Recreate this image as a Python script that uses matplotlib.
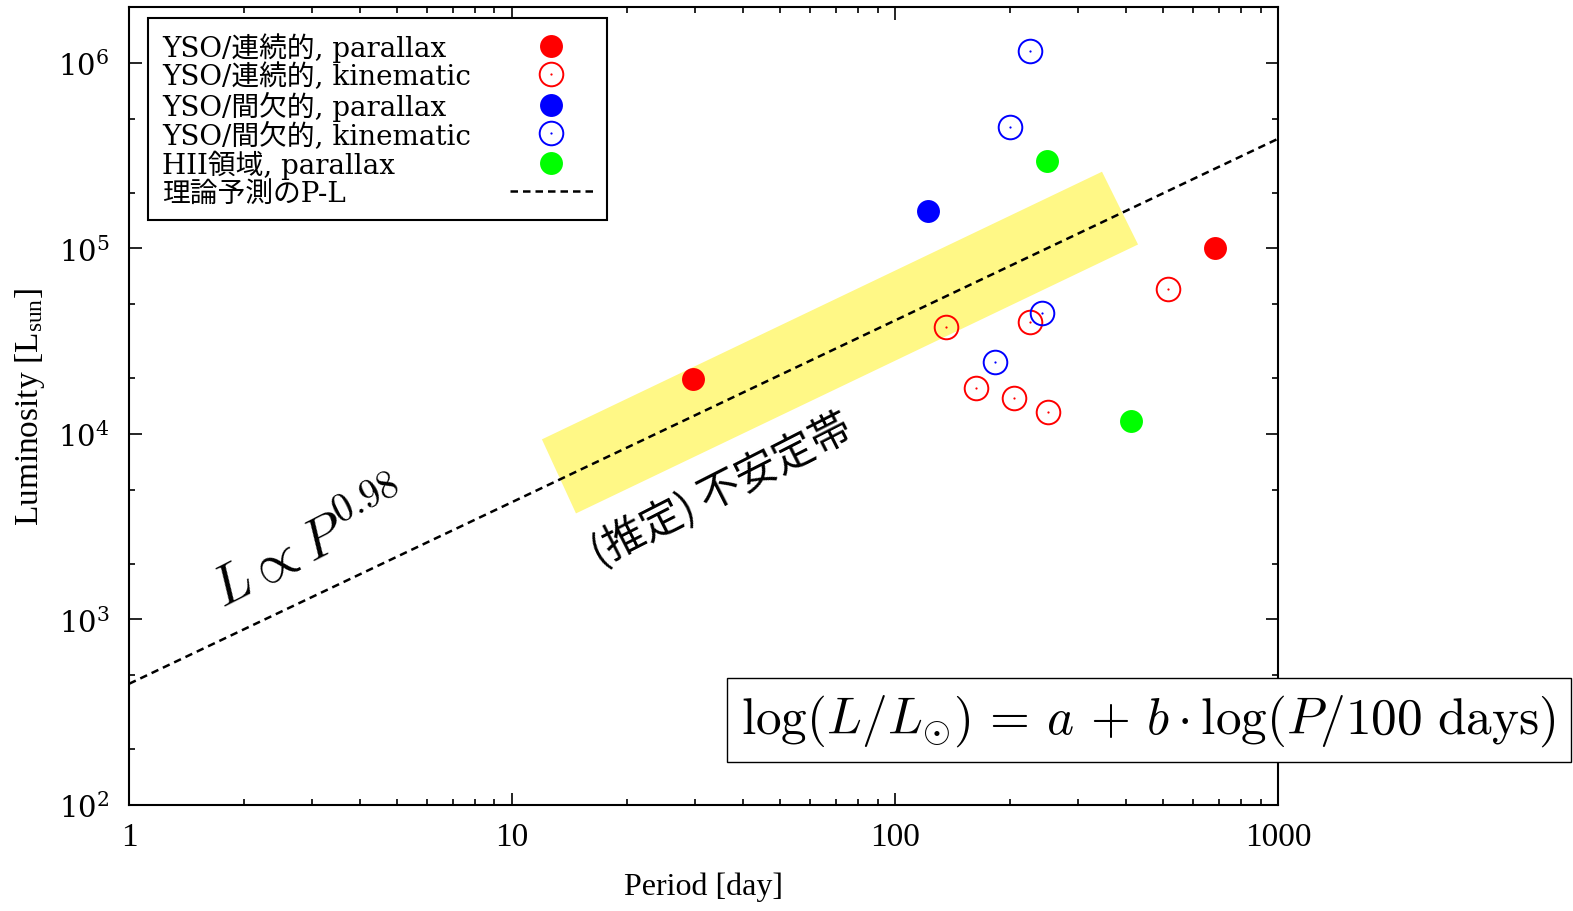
import matplotlib
matplotlib.use("Agg")
import matplotlib.pyplot as plt
from matplotlib.legend_handler import HandlerTuple
from matplotlib.ticker import LogLocator, FixedLocator, FixedFormatter, NullFormatter

# --- data (period in days, luminosity in L_sun) ---
yso_cont_par_P = [29.7, 685]
yso_cont_par_L = [1.97e4, 1.01e5]
yso_cont_kin_P = [136, 516, 225, 163, 204, 251]
yso_cont_kin_L = [3.79e4, 6.08e4, 3.99e4, 1.76e4, 1.57e4, 1.32e4]
yso_int_par_P = [122]
yso_int_par_L = [1.60e5]
yso_int_kin_P = [225, 200, 242, 182]
yso_int_kin_L = [1.16e6, 4.53e5, 4.46e4, 2.43e4]
hii_par_P = [249, 413]
hii_par_L = [2.97e5, 1.18e4]

# theoretical P-L relation (end points of the dashed line)
pl_P = [1, 1000]
pl_L = [450, 3.9e5]

# (estimated) instability strip, corners
band_P = [11.97, 14.69, 431, 347]
band_L = [9.35e3, 3.73e3, 1.05e5, 2.59e5]

x_ticks = [1, 10, 100, 1000]
x_ticklabels = ["1", "10", "100", "1000"]

labels = [
    "YSO/連続的, parallax",
    "YSO/連続的, kinematic",
    "YSO/間欠的, parallax",
    "YSO/間欠的, kinematic",
    "HII領域, parallax",
    "理論予測のP-L",
]

plt.rcParams["mathtext.fontset"] = "dejavuserif"
plt.rcParams["mathtext.rm"] = "Liberation Serif"
plt.rcParams["mathtext.it"] = "Liberation Serif:italic"

fig = plt.figure(figsize=(15.73, 9.12), dpi=100)
ax = fig.add_axes([0.082, 0.1162, 0.7305, 0.875])

ax.fill(band_P, band_L, color="#fff886", lw=0, zorder=1)
pl_line, = ax.plot(pl_P, pl_L, color="black", lw=1.8, ls=(0, (3, 2)), zorder=2)

filled_ms = 16.5
open_ms = 17


def open_points(P, L, color):
    ring, = ax.plot(P, L, ls="none", marker="o", ms=open_ms, mfc="none",
                    mec=color, mew=1.4, zorder=3)
    dot, = ax.plot(P, L, ls="none", marker="o", ms=1.6, mfc=color,
                   mec=color, mew=0, zorder=3)
    return (ring, dot)


h1, = ax.plot(yso_cont_par_P, yso_cont_par_L, ls="none", marker="o",
              ms=filled_ms, color="#ff0000", mew=0, zorder=3)
h2 = open_points(yso_cont_kin_P, yso_cont_kin_L, "#ff0000")
h3, = ax.plot(yso_int_par_P, yso_int_par_L, ls="none", marker="o",
              ms=filled_ms, color="#0000ff", mew=0, zorder=3)
h4 = open_points(yso_int_kin_P, yso_int_kin_L, "#0000ff")
h5, = ax.plot(hii_par_P, hii_par_L, ls="none", marker="o",
              ms=filled_ms, color="#00ff00", mew=0, zorder=3)

ax.set_xscale("log")
ax.set_yscale("log")
ax.set_xlim(1, 1000)
ax.set_ylim(100, 2.0e6)

ax.xaxis.set_major_locator(FixedLocator(x_ticks))
ax.xaxis.set_major_formatter(FixedFormatter(x_ticklabels))
ax.xaxis.set_minor_locator(LogLocator(base=10, subs=range(2, 10)))
ax.xaxis.set_minor_formatter(NullFormatter())
ax.yaxis.set_major_locator(LogLocator(base=10))
ax.yaxis.set_minor_locator(LogLocator(base=10, subs=(2, 5)))
ax.yaxis.set_minor_formatter(NullFormatter())

ax.tick_params(which="both", direction="in", top=True, right=True, width=1.2)
ax.tick_params(which="major", length=9)
ax.tick_params(which="minor", length=4.5)
ax.tick_params(axis="x", labelsize=24, labelfontfamily="Liberation Serif", pad=12)
ax.tick_params(axis="y", labelsize=21, labelfontfamily="DejaVu Serif", pad=14)
for s in ax.spines.values():
    s.set_linewidth(1.5)

ax.set_xlabel("Period [day]", fontsize=23, family="Liberation Serif", labelpad=14)
ylab = ax.set_ylabel(r"Luminosity [L$_{\mathrm{sun}}$]", fontsize=24,
                     family="Liberation Serif", labelpad=8)
ylab.set_math_fontfamily("custom")

ax.text(0.1575, 0.325, r"$L \propto P^{0.98}$", transform=ax.transAxes,
        fontsize=40, rotation=27, rotation_mode="anchor",
        ha="center", va="center", math_fontfamily="cm")
ax.text(0.516, 0.396, "(推定) 不安定帯", transform=ax.transAxes,
        fontsize=30, rotation=27, rotation_mode="anchor",
        ha="center", va="center", family="Noto Sans CJK JP")

ax.text(0.533, 0.072,
        r"$\log(L/L_{\odot})\,=\,a\,+\,b\cdot\log(P/100\ \mathrm{days})$",
        transform=ax.transAxes, fontsize=37, ha="left", va="bottom",
        math_fontfamily="cm", zorder=6,
        bbox=dict(boxstyle="square,pad=0.28", fc="white", ec="black", lw=1.0))

leg = ax.legend([h1, h2, h3, h4, h5, pl_line], labels,
                loc="upper left", bbox_to_anchor=(0.0165, 0.9862),
                borderaxespad=0, markerfirst=False, fancybox=False,
                framealpha=1, edgecolor="black", handlelength=3.0,
                handletextpad=1.0, labelspacing=0.02, borderpad=0.5,
                prop=dict(family=["DejaVu Serif", "Noto Sans CJK JP"], size=20),
                handler_map={tuple: HandlerTuple(ndivide=1)})
leg.get_frame().set_linewidth(1.5)
leg.set_zorder(10)

# left-align label texts while keeping the markers in a right-hand column
fig.canvas.draw()
renderer = fig.canvas.get_renderer()
widths = [t.get_window_extent(renderer).width for t in leg.get_texts()]
rows = [row for col in leg._legend_handle_box.get_children()
        for row in col.get_children()]
for row, w in zip(rows, widths):
    row.sep += (max(widths) - w) * 72 / fig.dpi + 8

fig.savefig("out.png", dpi=100)
